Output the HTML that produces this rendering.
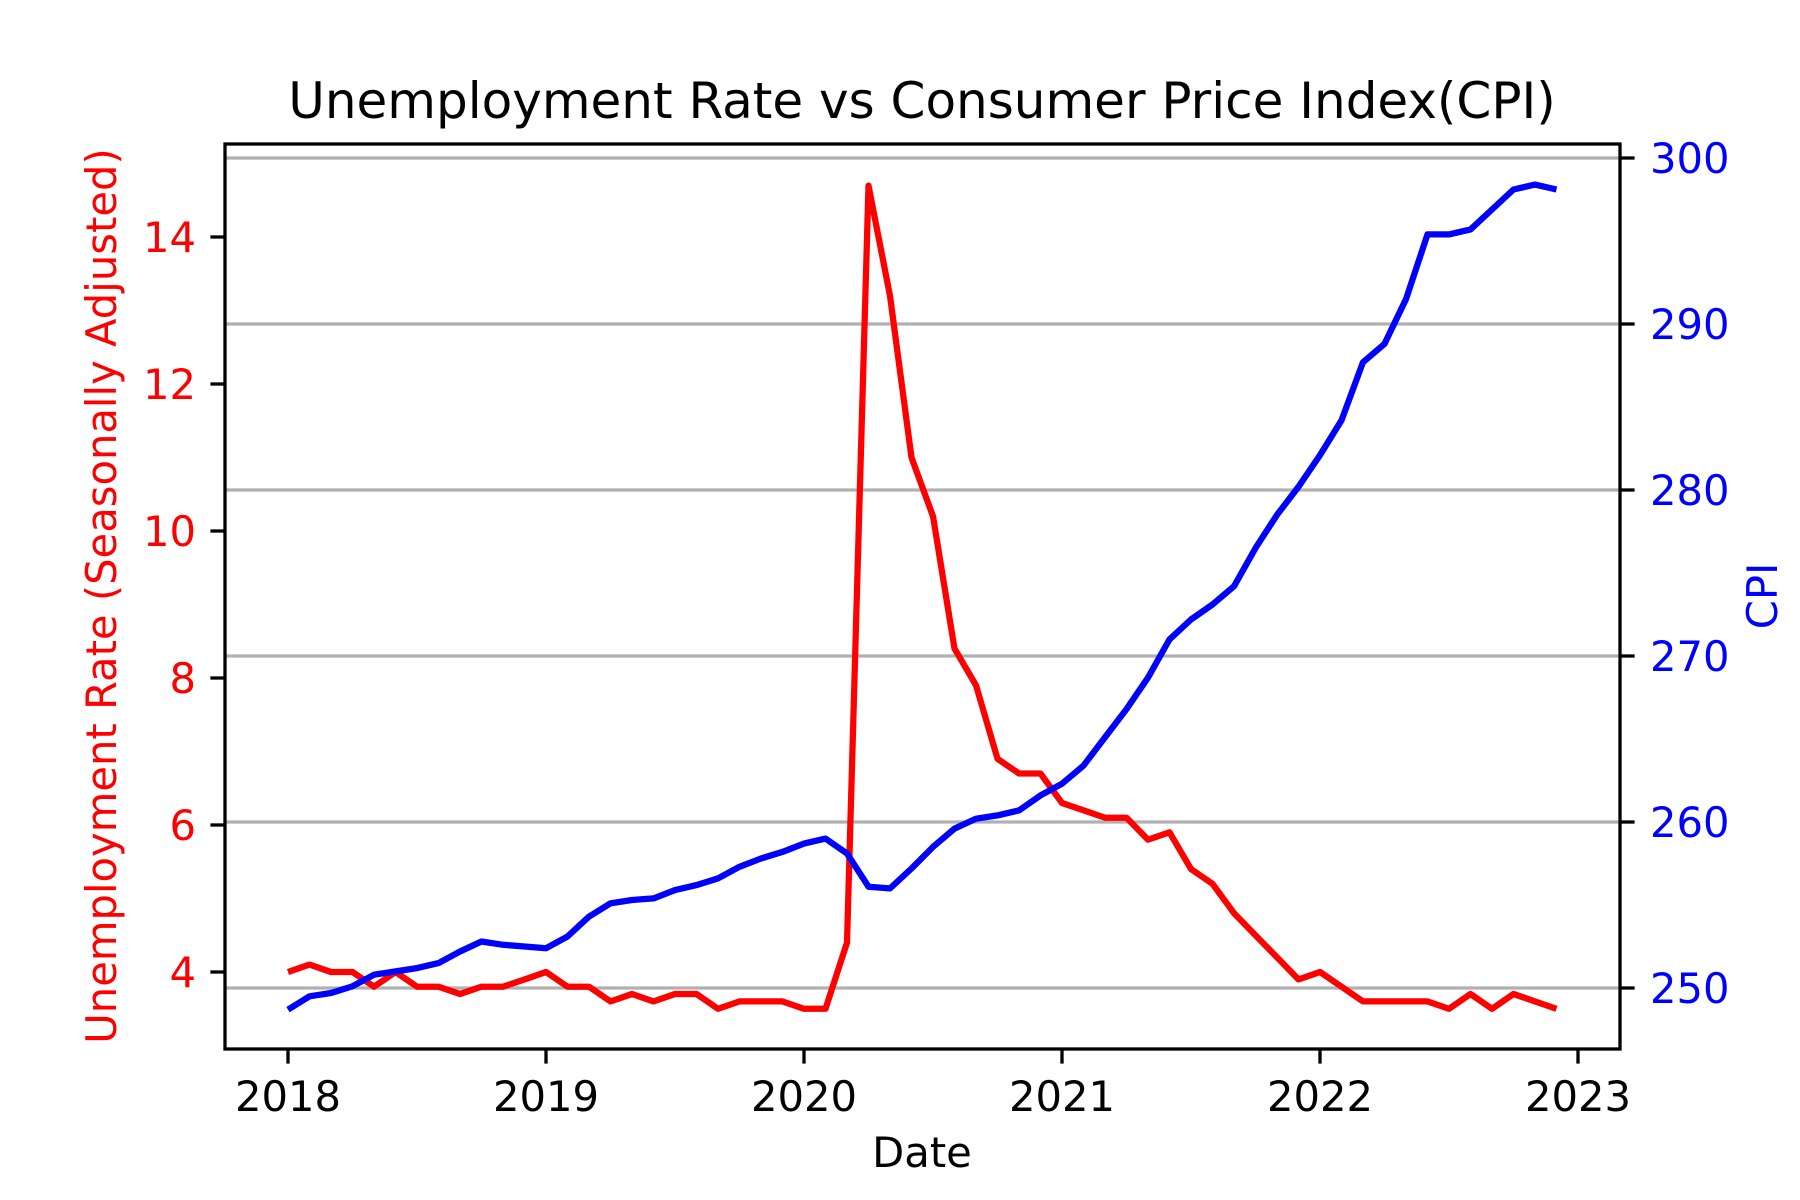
<!DOCTYPE html>
<html><head><meta charset="utf-8"><style>
html,body{margin:0;padding:0;background:#fff}
svg{display:block;font-family:"DejaVu Sans","Liberation Sans",sans-serif}
</style></head><body>
<svg id="chart" width="1800" height="1200" viewBox="0 0 1800 1200" xmlns="http://www.w3.org/2000/svg">
<rect width="1800" height="1200" fill="#fff"/>
<g id="grid"></g>
<g id="series"></g>
<g id="axes"></g>
<text x="922" y="118" font-size="50" text-anchor="middle" fill="#000">Unemployment Rate vs Consumer Price Index(CPI)</text>
<text x="922" y="1167" font-size="41.7" text-anchor="middle" fill="#000">Date</text>
<text x="0" y="0" font-size="41.7" text-anchor="middle" fill="#ff0000" transform="translate(116,596) rotate(-90)">Unemployment Rate (Seasonally Adjusted)</text>
<text x="0" y="0" font-size="41.7" text-anchor="middle" fill="#0000ff" transform="translate(1777,596) rotate(-90)">CPI</text>
</svg>
<script>
const unemployment = [4.0,4.1,4.0,4.0,3.8,4.0,3.8,3.8,3.7,3.8,3.8,3.9,
 4.0,3.8,3.8,3.6,3.7,3.6,3.7,3.7,3.5,3.6,3.6,3.6,
 3.5,3.5,4.4,14.7,13.2,11.0,10.2,8.4,7.9,6.9,6.7,6.7,
 6.3,6.2,6.1,6.1,5.8,5.9,5.4,5.2,4.8,4.5,4.2,3.9,
 4.0,3.8,3.6,3.6,3.6,3.6,3.5,3.7,3.5,3.7,3.6,3.5];
const cpi = [248.7,249.5,249.7,250.1,250.8,251.0,251.2,251.5,252.2,252.8,252.6,252.5,
 252.4,253.1,254.3,255.1,255.3,255.4,255.9,256.2,256.6,257.3,257.8,258.2,
 258.7,259.0,258.1,256.1,256.0,257.2,258.5,259.6,260.2,260.4,260.7,261.6,
 262.3,263.4,265.1,266.8,268.7,271.0,272.2,273.1,274.2,276.5,278.5,280.2,
 282.1,284.2,287.7,288.8,291.5,295.4,295.4,295.7,296.9,298.1,298.4,298.1];
const startYear = 2018;
const xTicks = [2018,2019,2020,2021,2022,2023];
const leftTicks = [4,6,8,10,12,14];
const rightTicks = [250,260,270,280,290,300];

const L=225,R=1620,T=144,B=1049;
const xs = t => 288 + (t-2018)*258;
const yl = v => 972 - (v-4)*73.5;
const yr = v => 988 - (v-250)*16.6;
const NS="http://www.w3.org/2000/svg";
function mk(tag, attrs, parent){const e=document.createElementNS(NS,tag);for(const k in attrs)e.setAttribute(k,attrs[k]);parent.appendChild(e);return e;}
const grid=document.getElementById('grid'),series=document.getElementById('series'),axes=document.getElementById('axes');

rightTicks.forEach(v=>{
  const g=mk('line',{x1:L,x2:R,y1:yr(v),y2:yr(v),stroke:'#b0b0b0','stroke-width':3.3},grid);
  
  
});

function pts(arr,fy){return arr.map((v,i)=>xs(startYear+i/12).toFixed(1)+','+fy(v).toFixed(1)).join(' ');}
const red=mk('polyline',{points:pts(unemployment,yl),fill:'none',stroke:'#ff0000','stroke-width':6.25,'stroke-linejoin':'round'},series);


const blue=mk('polyline',{points:pts(cpi,yr),fill:'none',stroke:'#0000ff','stroke-width':6.25,'stroke-linejoin':'round'},series);



const frame=mk('rect',{x:L,y:T,width:R-L,height:B-T,fill:'none',stroke:'#000','stroke-width':3.3},axes);



xTicks.forEach(t=>{
  const x=xs(t);
  const tk=mk('line',{x1:x,x2:x,y1:B,y2:B+14.6,stroke:'#000','stroke-width':3.3},axes);
  
  
  const tx=mk('text',{x:x,y:1111,'font-size':41.7,'text-anchor':'middle',fill:'#000'},axes);
  tx.textContent=t;
  
  
});
leftTicks.forEach(v=>{
  const y=yl(v);
  const tk=mk('line',{x1:L-14.6,x2:L,y1:y,y2:y,stroke:'#000','stroke-width':3.3},axes);
  
  
  const tx=mk('text',{x:196,y:y+15,'font-size':41.7,'text-anchor':'end',fill:'#ff0000'},axes);
  tx.textContent=v;
  
  
});
rightTicks.forEach(v=>{
  const y=yr(v);
  const tk=mk('line',{x1:R,x2:R+14.6,y1:y,y2:y,stroke:'#000','stroke-width':3.3},axes);
  
  
  const tx=mk('text',{x:1650,y:y+15,'font-size':41.7,'text-anchor':'start',fill:'#0000ff'},axes);
  tx.textContent=v;
  
  
});
</script>
</body></html>
